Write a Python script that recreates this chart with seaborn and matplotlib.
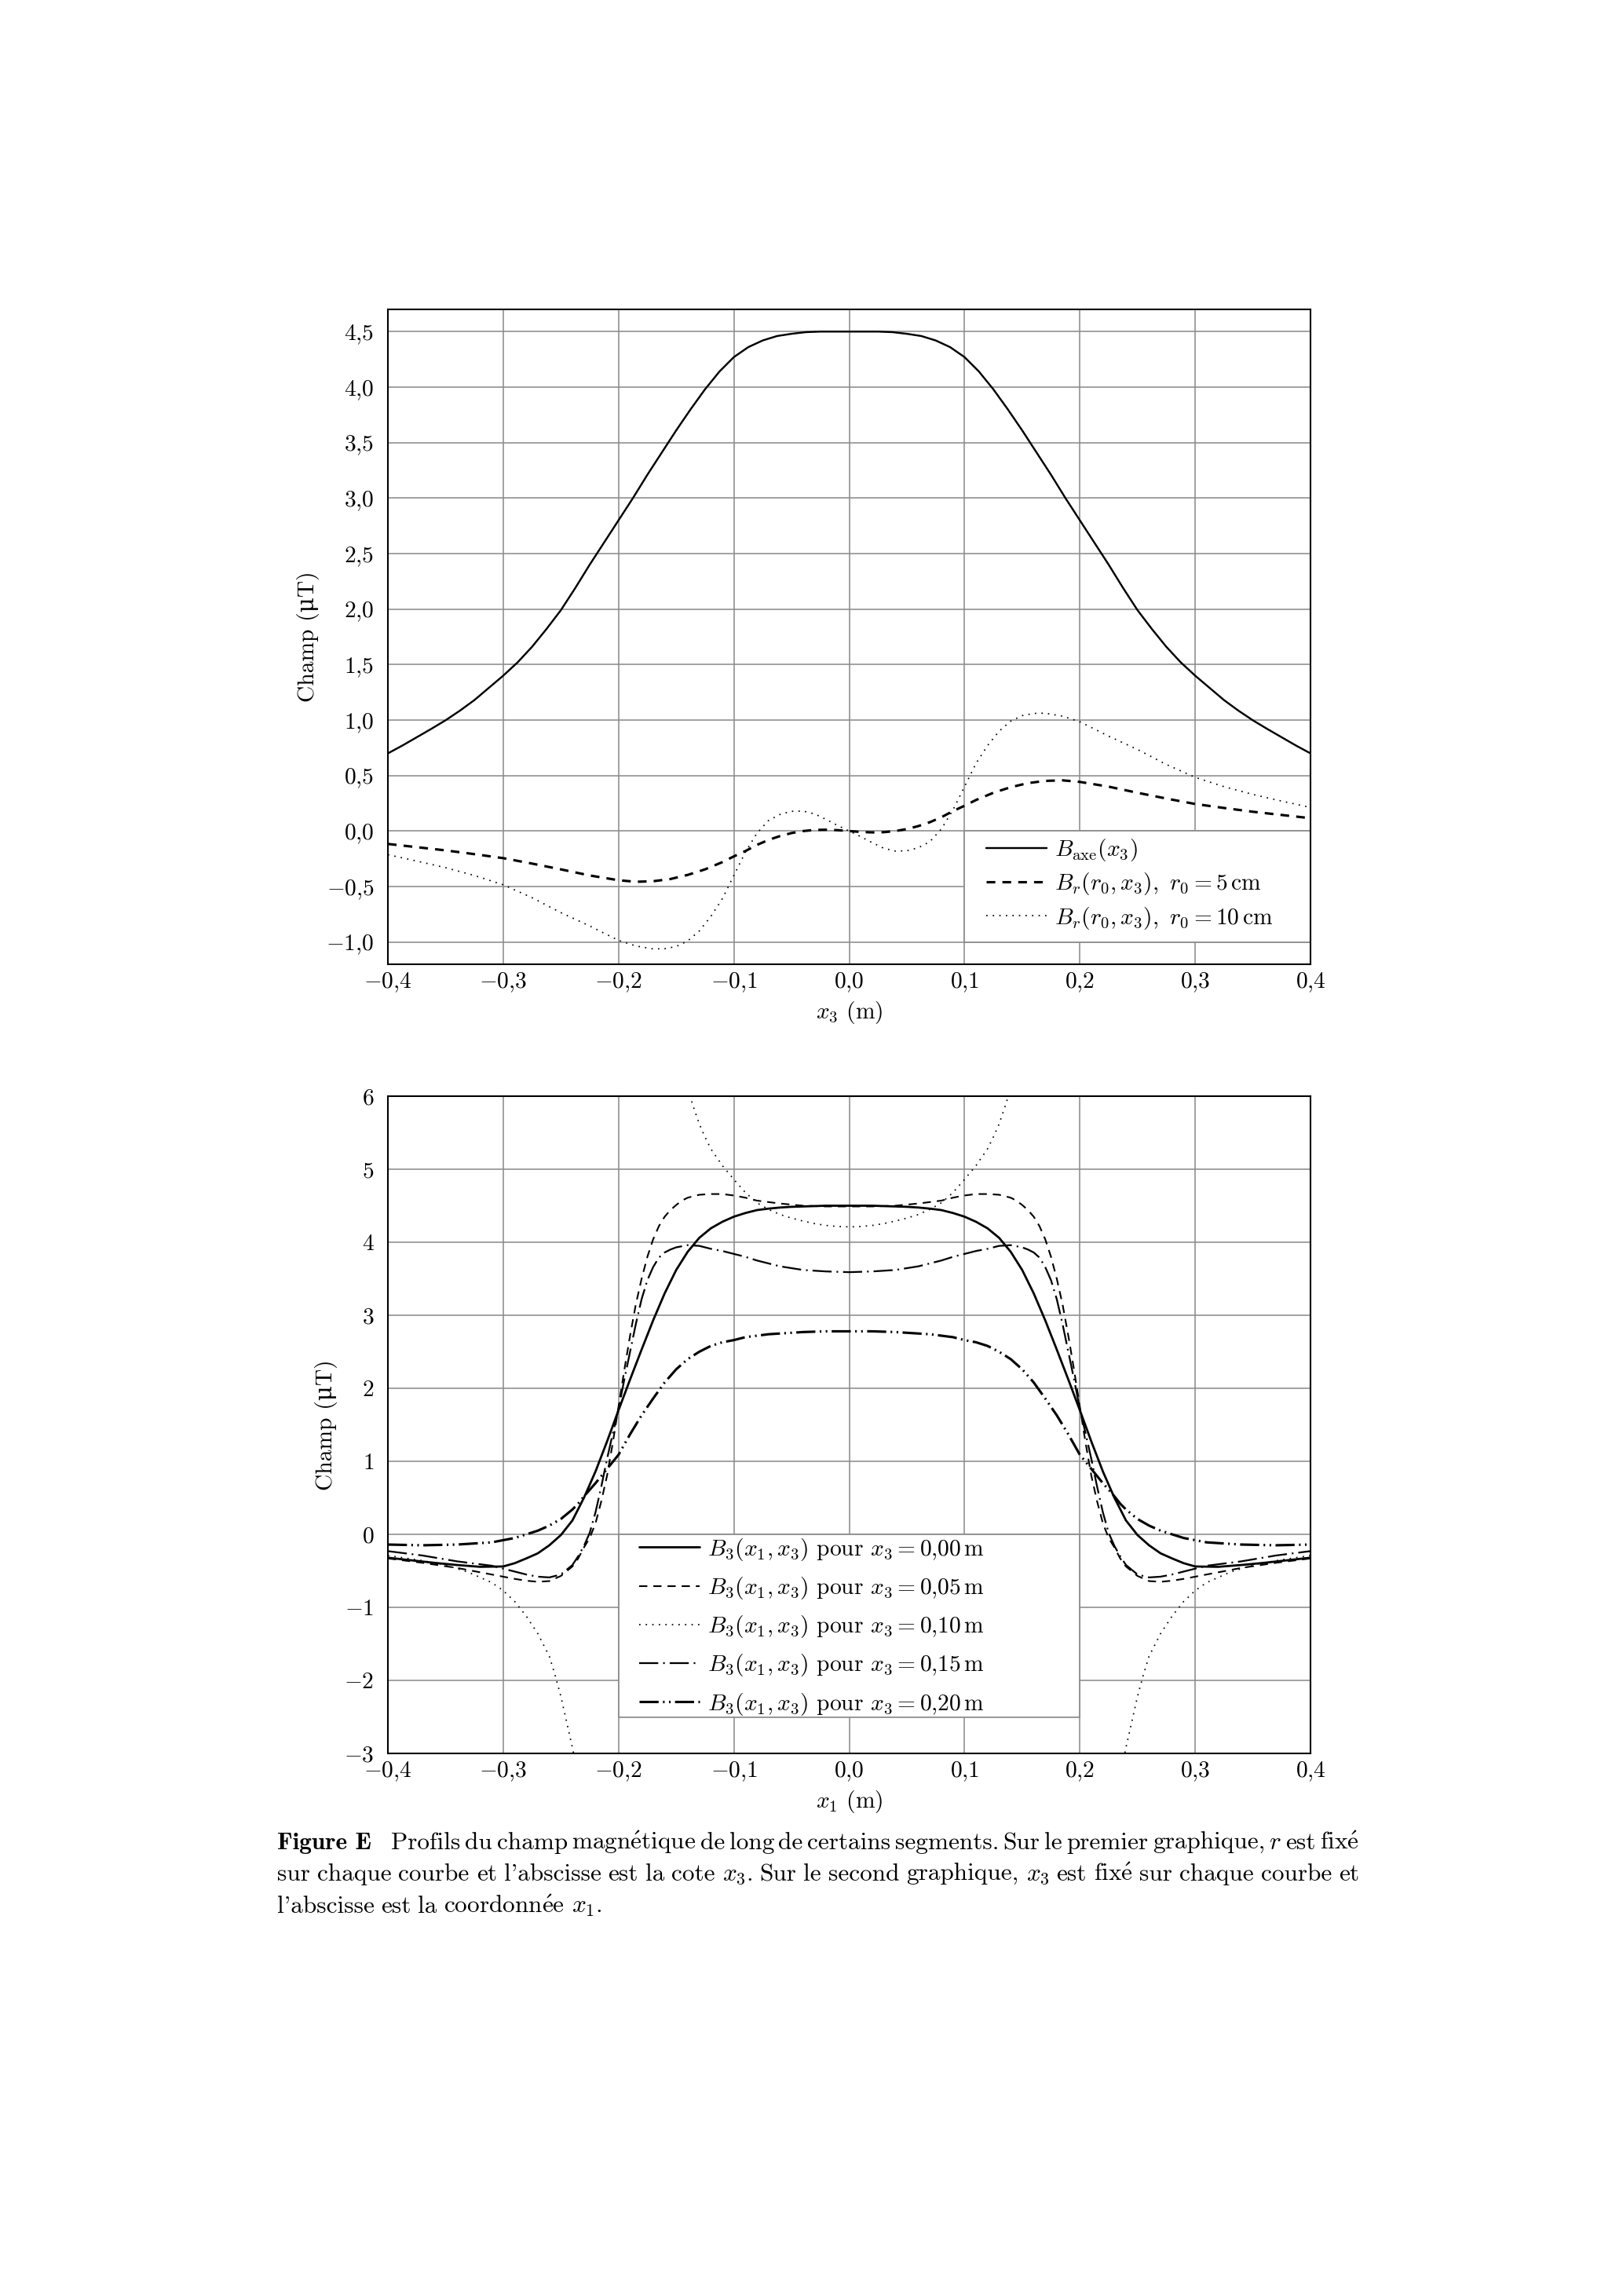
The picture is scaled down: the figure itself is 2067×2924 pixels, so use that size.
import matplotlib
matplotlib.use("Agg")
import matplotlib.pyplot as plt
import seaborn as sns
import pandas as pd
from matplotlib.lines import Line2D
from matplotlib.patches import Rectangle
from matplotlib.ticker import FixedLocator, FuncFormatter

# ---------------- data: top panel (profiles along x3) ----------------
x3_axe = [-0.4000, -0.3875, -0.3750, -0.3625, -0.3500, -0.3375, -0.3250, -0.3125, -0.3000, -0.2875,
          -0.2750, -0.2625, -0.2500, -0.2375, -0.2250, -0.2125, -0.2000, -0.1875, -0.1750, -0.1625,
          -0.1500, -0.1375, -0.1250, -0.1125, -0.1000, -0.0875, -0.0750, -0.0625, -0.0500, -0.0375,
          -0.0250, -0.0125, 0.0000, 0.0125, 0.0250, 0.0375, 0.0500, 0.0625, 0.0750, 0.0875,
          0.1000, 0.1125, 0.1250, 0.1375, 0.1500, 0.1625, 0.1750, 0.1875, 0.2000, 0.2125,
          0.2250, 0.2375, 0.2500, 0.2625, 0.2750, 0.2875, 0.3000, 0.3125, 0.3250, 0.3375,
          0.3500, 0.3625, 0.3750, 0.3875, 0.4000]
b_axe = [0.70, 0.77, 0.845, 0.92, 0.998, 1.085, 1.18, 1.29, 1.40, 1.52,
         1.66, 1.82, 1.99, 2.19, 2.40, 2.60, 2.80, 3.00, 3.21, 3.41,
         3.61, 3.80, 3.98, 4.14, 4.27, 4.36, 4.42, 4.46, 4.48, 4.495,
         4.50, 4.50, 4.50, 4.50, 4.50, 4.495, 4.48, 4.46, 4.42, 4.36,
         4.27, 4.14, 3.98, 3.80, 3.61, 3.41, 3.21, 3.00, 2.80, 2.60,
         2.40, 2.19, 1.99, 1.82, 1.66, 1.52, 1.40, 1.29, 1.18, 1.085,
         0.998, 0.92, 0.845, 0.77, 0.70]

x3_r5 = [-0.40, -0.375, -0.35, -0.325, -0.30, -0.275, -0.25, -0.225, -0.20, -0.185, -0.17, -0.155,
         -0.14, -0.125, -0.11, -0.10, -0.09, -0.08, -0.07, -0.06, -0.05, -0.04, -0.03, -0.02, -0.01,
         0.00, 0.01, 0.02, 0.03, 0.04, 0.05, 0.06, 0.07, 0.08, 0.09, 0.10, 0.11, 0.125, 0.14,
         0.155, 0.17, 0.185, 0.20, 0.225, 0.25, 0.275, 0.30, 0.325, 0.35, 0.375, 0.40]
br_r5 = [-0.116, -0.145, -0.174, -0.208, -0.244, -0.293, -0.345, -0.400, -0.443, -0.457, -0.452, -0.432,
         -0.395, -0.345, -0.280, -0.228, -0.180, -0.125, -0.080, -0.045, -0.018, 0.000, 0.010, 0.012, 0.008,
         0.000, -0.008, -0.012, -0.010, 0.000, 0.018, 0.045, 0.080, 0.125, 0.180, 0.228, 0.280, 0.345, 0.395,
         0.432, 0.452, 0.457, 0.443, 0.400, 0.345, 0.293, 0.244, 0.208, 0.174, 0.145, 0.116]

x3_r10 = [-0.40, -0.375, -0.35, -0.325, -0.30, -0.275, -0.25, -0.225, -0.20, -0.185, -0.17, -0.16,
          -0.15, -0.14, -0.13, -0.12, -0.11, -0.10, -0.09, -0.08, -0.07, -0.06, -0.05, -0.04, -0.03,
          -0.02, -0.01, 0.00, 0.01, 0.02, 0.03, 0.04, 0.05, 0.06, 0.07, 0.08, 0.09, 0.10, 0.11, 0.12,
          0.13, 0.14, 0.15, 0.16, 0.17, 0.185, 0.20, 0.225, 0.25, 0.275, 0.30, 0.325, 0.35, 0.375, 0.40]
br_r10 = [-0.213, -0.270, -0.330, -0.400, -0.484, -0.600, -0.735, -0.855, -0.985, -1.035, -1.062, -1.060,
          -1.040, -0.990, -0.900, -0.770, -0.610, -0.400, -0.190, -0.020, 0.095, 0.150, 0.178, 0.180, 0.155,
          0.105, 0.050, 0.000, -0.050, -0.105, -0.155, -0.180, -0.178, -0.150, -0.095, 0.020, 0.190, 0.400,
          0.610, 0.770, 0.900, 0.990, 1.040, 1.060, 1.062, 1.035, 0.985, 0.855, 0.735, 0.600, 0.484, 0.400,
          0.330, 0.270, 0.213]

top_labels = [r"$B_{\mathrm{axe}}(x_3)$",
              r"$B_r(r_0, x_3),\ r_0 = 5\,\mathrm{cm}$",
              r"$B_r(r_0, x_3),\ r_0 = 10\,\mathrm{cm}$"]

# ---------------- data: bottom panel (profiles along x1) ----------------
x1_00 = [-0.40, -0.38, -0.36, -0.34, -0.32, -0.30, -0.29, -0.28, -0.27, -0.26, -0.25, -0.24, -0.23,
         -0.22, -0.21, -0.20, -0.19, -0.18, -0.17, -0.16, -0.15, -0.14, -0.13, -0.12, -0.11, -0.10,
         -0.09, -0.08, -0.07, -0.06, -0.05, -0.04, -0.03, -0.02, -0.01, 0.00,
         0.01, 0.02, 0.03, 0.04, 0.05, 0.06, 0.07, 0.08, 0.09, 0.10, 0.11, 0.12, 0.13, 0.14, 0.15,
         0.16, 0.17, 0.18, 0.19, 0.20, 0.21, 0.22, 0.23, 0.24, 0.25, 0.26, 0.27, 0.28, 0.29, 0.30,
         0.32, 0.34, 0.36, 0.38, 0.40]
b3_00 = [-0.32, -0.355, -0.39, -0.42, -0.445, -0.44, -0.395, -0.33, -0.26, -0.15, -0.01, 0.19, 0.50,
         0.86, 1.27, 1.70, 2.12, 2.53, 2.93, 3.30, 3.62, 3.87, 4.06, 4.19, 4.28, 4.35,
         4.40, 4.44, 4.46, 4.475, 4.485, 4.49, 4.495, 4.50, 4.50, 4.50,
         4.50, 4.50, 4.495, 4.49, 4.485, 4.475, 4.46, 4.44, 4.40, 4.35, 4.28, 4.19, 4.06, 3.87, 3.62,
         3.30, 2.93, 2.53, 2.12, 1.70, 1.27, 0.86, 0.50, 0.19, -0.01, -0.15, -0.26, -0.33, -0.395, -0.44,
         -0.445, -0.42, -0.39, -0.355, -0.32]

x1_05 = [-0.40, -0.37, -0.34, -0.31, -0.29, -0.28, -0.27, -0.26, -0.25, -0.24, -0.235, -0.23, -0.225,
         -0.22, -0.215, -0.21, -0.205, -0.20, -0.195, -0.19, -0.185, -0.18, -0.175, -0.17, -0.165,
         -0.16, -0.155, -0.15, -0.145, -0.14, -0.13, -0.12, -0.11, -0.10, -0.09, -0.08, -0.07, -0.06,
         -0.05, -0.04, -0.03, -0.02, -0.01, 0.00,
         0.01, 0.02, 0.03, 0.04, 0.05, 0.06, 0.07, 0.08, 0.09, 0.10, 0.11, 0.12, 0.13, 0.14, 0.145,
         0.15, 0.155, 0.16, 0.165, 0.17, 0.175, 0.18, 0.185, 0.19, 0.195, 0.20, 0.205, 0.21, 0.215,
         0.22, 0.225, 0.23, 0.235, 0.24, 0.25, 0.26, 0.27, 0.28, 0.29, 0.31, 0.34, 0.37, 0.40]
b3_05 = [-0.33, -0.39, -0.46, -0.55, -0.61, -0.635, -0.65, -0.64, -0.57, -0.44, -0.33, -0.18, -0.05,
         0.15, 0.45, 0.80, 1.25, 1.75, 2.25, 2.72, 3.15, 3.50, 3.80, 4.04, 4.22,
         4.35, 4.44, 4.51, 4.57, 4.61, 4.65, 4.66, 4.66, 4.64, 4.61, 4.57, 4.55, 4.53,
         4.515, 4.50, 4.495, 4.49, 4.49, 4.49,
         4.49, 4.49, 4.495, 4.50, 4.515, 4.53, 4.55, 4.57, 4.61, 4.64, 4.66, 4.66, 4.65, 4.61, 4.57,
         4.51, 4.44, 4.35, 4.22, 4.04, 3.80, 3.50, 3.15, 2.72, 2.25, 1.75, 1.25, 0.80, 0.45,
         0.15, -0.05, -0.18, -0.33, -0.44, -0.57, -0.64, -0.65, -0.635, -0.61, -0.55, -0.46, -0.39, -0.33]

x1_10_left = [-0.40, -0.37, -0.35, -0.33, -0.31, -0.30, -0.29, -0.28, -0.27, -0.26, -0.255, -0.25,
              -0.245, -0.24, -0.238]
b3_10_left = [-0.29, -0.36, -0.42, -0.52, -0.66, -0.77, -0.92, -1.12, -1.36, -1.67, -1.93, -2.22,
              -2.57, -2.92, -3.08]
x1_10_mid = [-0.14, -0.135, -0.13, -0.125, -0.12, -0.11, -0.10, -0.09, -0.08, -0.07, -0.06, -0.05,
             -0.04, -0.03, -0.02, -0.01, 0.00, 0.01, 0.02, 0.03, 0.04, 0.05, 0.06, 0.07, 0.08, 0.09,
             0.10, 0.11, 0.12, 0.125, 0.13, 0.135, 0.14]
b3_10_mid = [6.10, 5.85, 5.62, 5.44, 5.28, 5.05, 4.86, 4.68, 4.54, 4.45, 4.38, 4.33,
             4.29, 4.255, 4.23, 4.215, 4.21, 4.215, 4.23, 4.255, 4.29, 4.33, 4.38, 4.45, 4.54, 4.68,
             4.86, 5.05, 5.28, 5.44, 5.62, 5.85, 6.10]
x1_10_right = [0.238, 0.24, 0.245, 0.25, 0.255, 0.26, 0.27, 0.28, 0.29, 0.30, 0.31, 0.33, 0.35,
               0.37, 0.40]
b3_10_right = [-3.08, -2.92, -2.57, -2.22, -1.93, -1.67, -1.36, -1.12, -0.92, -0.77, -0.66, -0.52,
               -0.42, -0.36, -0.29]

x1_15 = [-0.40, -0.37, -0.34, -0.31, -0.29, -0.28, -0.27, -0.26, -0.25, -0.24, -0.235, -0.23, -0.225,
         -0.22, -0.215, -0.21, -0.205, -0.20, -0.195, -0.19, -0.185, -0.18, -0.175, -0.17, -0.165,
         -0.16, -0.155, -0.15, -0.14, -0.13, -0.12, -0.11, -0.10, -0.09, -0.08, -0.07, -0.06, -0.05,
         -0.04, -0.03, -0.02, -0.01, 0.00,
         0.01, 0.02, 0.03, 0.04, 0.05, 0.06, 0.07, 0.08, 0.09, 0.10, 0.11, 0.12, 0.13, 0.14, 0.15,
         0.155, 0.16, 0.165, 0.17, 0.175, 0.18, 0.185, 0.19, 0.195, 0.20, 0.205, 0.21, 0.215, 0.22,
         0.225, 0.23, 0.235, 0.24, 0.25, 0.26, 0.27, 0.28, 0.29, 0.31, 0.34, 0.37, 0.40]
b3_15 = [-0.23, -0.29, -0.37, -0.43, -0.51, -0.55, -0.58, -0.59, -0.55, -0.42, -0.30, -0.16, 0.02,
         0.30, 0.65, 1.03, 1.38, 1.72, 2.12, 2.50, 2.88, 3.22, 3.48, 3.66, 3.79,
         3.86, 3.90, 3.93, 3.96, 3.95, 3.91, 3.88, 3.84, 3.80, 3.75, 3.71, 3.67, 3.645,
         3.62, 3.61, 3.60, 3.595, 3.59,
         3.595, 3.60, 3.61, 3.62, 3.645, 3.67, 3.71, 3.75, 3.80, 3.84, 3.88, 3.91, 3.95, 3.96, 3.93,
         3.90, 3.86, 3.79, 3.66, 3.48, 3.22, 2.88, 2.50, 2.12, 1.72, 1.38, 1.03, 0.65, 0.30,
         0.02, -0.16, -0.30, -0.42, -0.55, -0.59, -0.58, -0.55, -0.51, -0.43, -0.37, -0.29, -0.23]

x1_20 = [-0.40, -0.37, -0.34, -0.31, -0.30, -0.29, -0.28, -0.27, -0.26, -0.25, -0.24, -0.235, -0.23,
         -0.22, -0.21, -0.20, -0.19, -0.18, -0.17, -0.16, -0.15, -0.14, -0.13, -0.12, -0.11, -0.10,
         -0.09, -0.08, -0.07, -0.06, -0.05, -0.04, -0.03, -0.02, -0.01, 0.00,
         0.01, 0.02, 0.03, 0.04, 0.05, 0.06, 0.07, 0.08, 0.09, 0.10, 0.11, 0.12, 0.13, 0.14, 0.15,
         0.16, 0.17, 0.18, 0.19, 0.20, 0.21, 0.22, 0.23, 0.235, 0.24, 0.25, 0.26, 0.27, 0.28, 0.29,
         0.30, 0.31, 0.34, 0.37, 0.40]
b3_20 = [-0.14, -0.15, -0.14, -0.11, -0.08, -0.05, 0.00, 0.05, 0.12, 0.21, 0.34, 0.42, 0.52,
         0.70, 0.895, 1.09, 1.37, 1.63, 1.86, 2.08, 2.26, 2.40, 2.50, 2.58, 2.63, 2.66,
         2.70, 2.72, 2.74, 2.75, 2.76, 2.77, 2.775, 2.78, 2.78, 2.78,
         2.78, 2.78, 2.775, 2.77, 2.76, 2.75, 2.74, 2.72, 2.70, 2.66, 2.63, 2.58, 2.50, 2.40, 2.26,
         2.08, 1.86, 1.63, 1.37, 1.09, 0.895, 0.70, 0.52, 0.42, 0.34, 0.21, 0.12, 0.05, 0.00, -0.05,
         -0.08, -0.11, -0.14, -0.15, -0.14]

bottom_labels = [r"$B_3(x_1, x_3)$ pour $x_3 = 0{,}00\,\mathrm{m}$",
                 r"$B_3(x_1, x_3)$ pour $x_3 = 0{,}05\,\mathrm{m}$",
                 r"$B_3(x_1, x_3)$ pour $x_3 = 0{,}10\,\mathrm{m}$",
                 r"$B_3(x_1, x_3)$ pour $x_3 = 0{,}15\,\mathrm{m}$",
                 r"$B_3(x_1, x_3)$ pour $x_3 = 0{,}20\,\mathrm{m}$"]

x_ticks = [-0.4, -0.3, -0.2, -0.1, 0.0, 0.1, 0.2, 0.3, 0.4]
y_ticks_top = [-1.0, -0.5, 0.0, 0.5, 1.0, 1.5, 2.0, 2.5, 3.0, 3.5, 4.0, 4.5]
y_ticks_bottom = [-3, -2, -1, 0, 1, 2, 3, 4, 5, 6]

caption_line1 = ["Profils", "du", "champ", r"$\mathrm{magn\acute{e}tique}$", "de", "long", "de",
                 "certains", "segments.", "Sur", "le", "premier", "graphique,", "$r$", "est",
                 r"$\mathrm{fix\acute{e}}$"]
caption_line2 = ["sur", "chaque", "courbe", "et", "l'abscisse", "est", "la", "cote", "$x_3$.", "Sur",
                 "le", "second", "graphique,", "$x_3$", "est", r"$\mathrm{fix\acute{e}}$", "sur",
                 "chaque", "courbe", "et"]
caption_line3 = ["l'abscisse", "est", "la", r"$\mathrm{coordonn\acute{e}e}$", "$x_1$."]

# ---------------- style ----------------
sns.set_theme(style="white")
FS = 8.5
plt.rcParams.update({
    "font.family": ["cmr10", "DejaVu Serif"],
    "mathtext.fontset": "cm",
    "axes.formatter.use_mathtext": True,
    "axes.unicode_minus": False,
    "lines.scale_dashes": False,
    "axes.edgecolor": "black",
    "axes.linewidth": 0.6,
    "axes.facecolor": "white",
    "figure.facecolor": "white",
    "grid.color": "#8a8a8a",
    "grid.linewidth": 0.45,
    "xtick.major.size": 0,
    "ytick.major.size": 0,
    "xtick.major.pad": 2.6,
    "ytick.major.pad": 5,
    "xtick.labelsize": FS,
    "ytick.labelsize": FS,
    "axes.labelsize": FS,
    "legend.fontsize": FS,
    "xtick.color": "black",
    "ytick.color": "black",
    "axes.labelcolor": "black",
    "text.color": "black",
})

W, H = 2067, 2924
DPI = 250
fig = plt.figure(figsize=(W / DPI, H / DPI), dpi=DPI)

LEFT, RIGHT = 494, 1669
ax1 = fig.add_axes([LEFT / W, 1 - 1228 / H, (RIGHT - LEFT) / W, (1228 - 394) / H])
ax2 = fig.add_axes([LEFT / W, 1 - 2233 / H, (RIGHT - LEFT) / W, (2233 - 1396) / H])


def comma_fmt(decimals):
    def f(v, pos):
        s = f"{v:.{decimals}f}"
        if s.startswith("-") and float(s) == 0:
            s = s[1:]
        return "$" + s.replace(".", "{,}") + "$"
    return FuncFormatter(f)


def line(ax, x, y, lw, ls):
    df = pd.DataFrame({"x": x, "y": y})
    sns.lineplot(data=df, x="x", y="y", ax=ax, color="black", linewidth=lw, linestyle=ls,
                 sort=False, estimator=None, zorder=3)


# styles
ST_SOLID = (0.7, "-")
ST_DASH_THICK = (0.9, (0, (3.2, 2.6)))
ST_DOT = (0.5, (0, (0.5, 1.9)))
ST_SOLID_B = (0.8, "-")
ST_DASH_THIN = (0.6, (0, (3.0, 2.2)))
ST_DASHDOT = (0.65, (0, (7.0, 1.8, 0.6, 1.8)))
ST_DASHDOTDOT = (0.9, (0, (7.0, 1.6, 0.6, 1.6, 0.6, 1.6)))

MU_LABEL = "Champ (\u03bcT)"

# ---------------- top panel ----------------
line(ax1, x3_axe, b_axe, *ST_SOLID)
line(ax1, x3_r5, br_r5, *ST_DASH_THICK)
line(ax1, x3_r10, br_r10, *ST_DOT)

ax1.set_xlim(-0.4, 0.4)
ax1.set_ylim(-1.2, 4.7)
ax1.xaxis.set_major_locator(FixedLocator(x_ticks))
ax1.yaxis.set_major_locator(FixedLocator(y_ticks_top))
ax1.xaxis.set_major_formatter(comma_fmt(1))
ax1.yaxis.set_major_formatter(comma_fmt(1))
ax1.grid(True, zorder=0)
ax1.set_axisbelow(True)
ax1.set_xlabel(r"$x_3$ (m)", labelpad=2.0)
ax1.set_ylabel(MU_LABEL, labelpad=2.4)
ax1.add_patch(Rectangle((0.1, -1.0), 0.3, 1.0, facecolor="white", edgecolor="#8a8a8a",
                        linewidth=0.5, zorder=1.5))
h_top = [Line2D([], [], color="black", lw=ST_SOLID[0], ls=ST_SOLID[1]),
         Line2D([], [], color="black", lw=ST_DASH_THICK[0], ls=ST_DASH_THICK[1]),
         Line2D([], [], color="black", lw=ST_DOT[0], ls=ST_DOT[1])]
leg1 = ax1.legend(h_top, top_labels, loc="upper left", bbox_to_anchor=(0.119, -0.055),
                  bbox_transform=ax1.transData, frameon=False, borderpad=0, borderaxespad=0,
                  handlelength=2.6, handletextpad=0.35, labelspacing=0.35)
leg1.set_zorder(4)

# ---------------- bottom panel ----------------
line(ax2, x1_00, b3_00, *ST_SOLID_B)
line(ax2, x1_05, b3_05, *ST_DASH_THIN)
line(ax2, x1_10_left, b3_10_left, *ST_DOT)
line(ax2, x1_10_mid, b3_10_mid, *ST_DOT)
line(ax2, x1_10_right, b3_10_right, *ST_DOT)
line(ax2, x1_15, b3_15, *ST_DASHDOT)
line(ax2, x1_20, b3_20, *ST_DASHDOTDOT)

ax2.set_xlim(-0.4, 0.4)
ax2.set_ylim(-3, 6)
ax2.xaxis.set_major_locator(FixedLocator(x_ticks))
ax2.yaxis.set_major_locator(FixedLocator(y_ticks_bottom))
ax2.xaxis.set_major_formatter(comma_fmt(1))
ax2.yaxis.set_major_formatter(comma_fmt(0))
ax2.grid(True, zorder=0)
ax2.set_axisbelow(True)
ax2.set_xlabel(r"$x_1$ (m)", labelpad=2.0)
ax2.set_ylabel(MU_LABEL, labelpad=2.4)
ax2.add_patch(Rectangle((-0.2, -2.5), 0.4, 2.5, facecolor="white", edgecolor="#8a8a8a",
                        linewidth=0.5, zorder=1.5))
h_bot = [Line2D([], [], color="black", lw=ST_SOLID_B[0], ls=ST_SOLID_B[1]),
         Line2D([], [], color="black", lw=ST_DASH_THIN[0], ls=ST_DASH_THIN[1]),
         Line2D([], [], color="black", lw=ST_DOT[0], ls=ST_DOT[1]),
         Line2D([], [], color="black", lw=ST_DASHDOT[0], ls=ST_DASHDOT[1]),
         Line2D([], [], color="black", lw=ST_DASHDOTDOT[0], ls=ST_DASHDOTDOT[1])]
leg2 = ax2.legend(h_bot, bottom_labels, loc="upper left", bbox_to_anchor=(-0.182, -0.03),
                  bbox_transform=ax2.transData, frameon=False, borderpad=0, borderaxespad=0,
                  handlelength=2.6, handletextpad=0.35, labelspacing=0.55)
leg2.set_zorder(4)

for ax in (ax1, ax2):
    for s in ax.spines.values():
        s.set_visible(True)
        s.set_color("black")
        s.set_linewidth(0.6)
        s.set_zorder(5)

# ---------------- caption (justified) ----------------
renderer = fig.canvas.get_renderer()
CAP_FS = 9.0
X0, X1 = 353, 1731


def draw_caption_line(words, y_px, justify, lead=None):
    items = []
    if lead is not None:
        items.append((lead, ["cmb10", "DejaVu Serif"]))
    for w in words:
        items.append((w, ["cmr10", "DejaVu Serif"]))
    texts, widths = [], []
    for word, fam in items:
        t = fig.text(0, 1 - y_px / H, word, fontsize=CAP_FS, va="baseline", ha="left", family=fam)
        texts.append(t)
        widths.append(t.get_window_extent(renderer).width)
    lead_extra = 20 if lead is not None else 0
    n_gaps = len(texts) - 1
    if justify:
        gap = (X1 - X0 - sum(widths) - lead_extra) / n_gaps
    else:
        gap = 8.5
    x = X0
    for i, (t, w) in enumerate(zip(texts, widths)):
        t.set_x(x / W)
        x += w + gap
        if i == 0 and lead is not None:
            x += lead_extra


draw_caption_line(caption_line1, 2355, True, lead="Figure E")
draw_caption_line(caption_line2, 2395, True)
draw_caption_line(caption_line3, 2436, False)

fig.savefig("out.png", dpi=DPI)
